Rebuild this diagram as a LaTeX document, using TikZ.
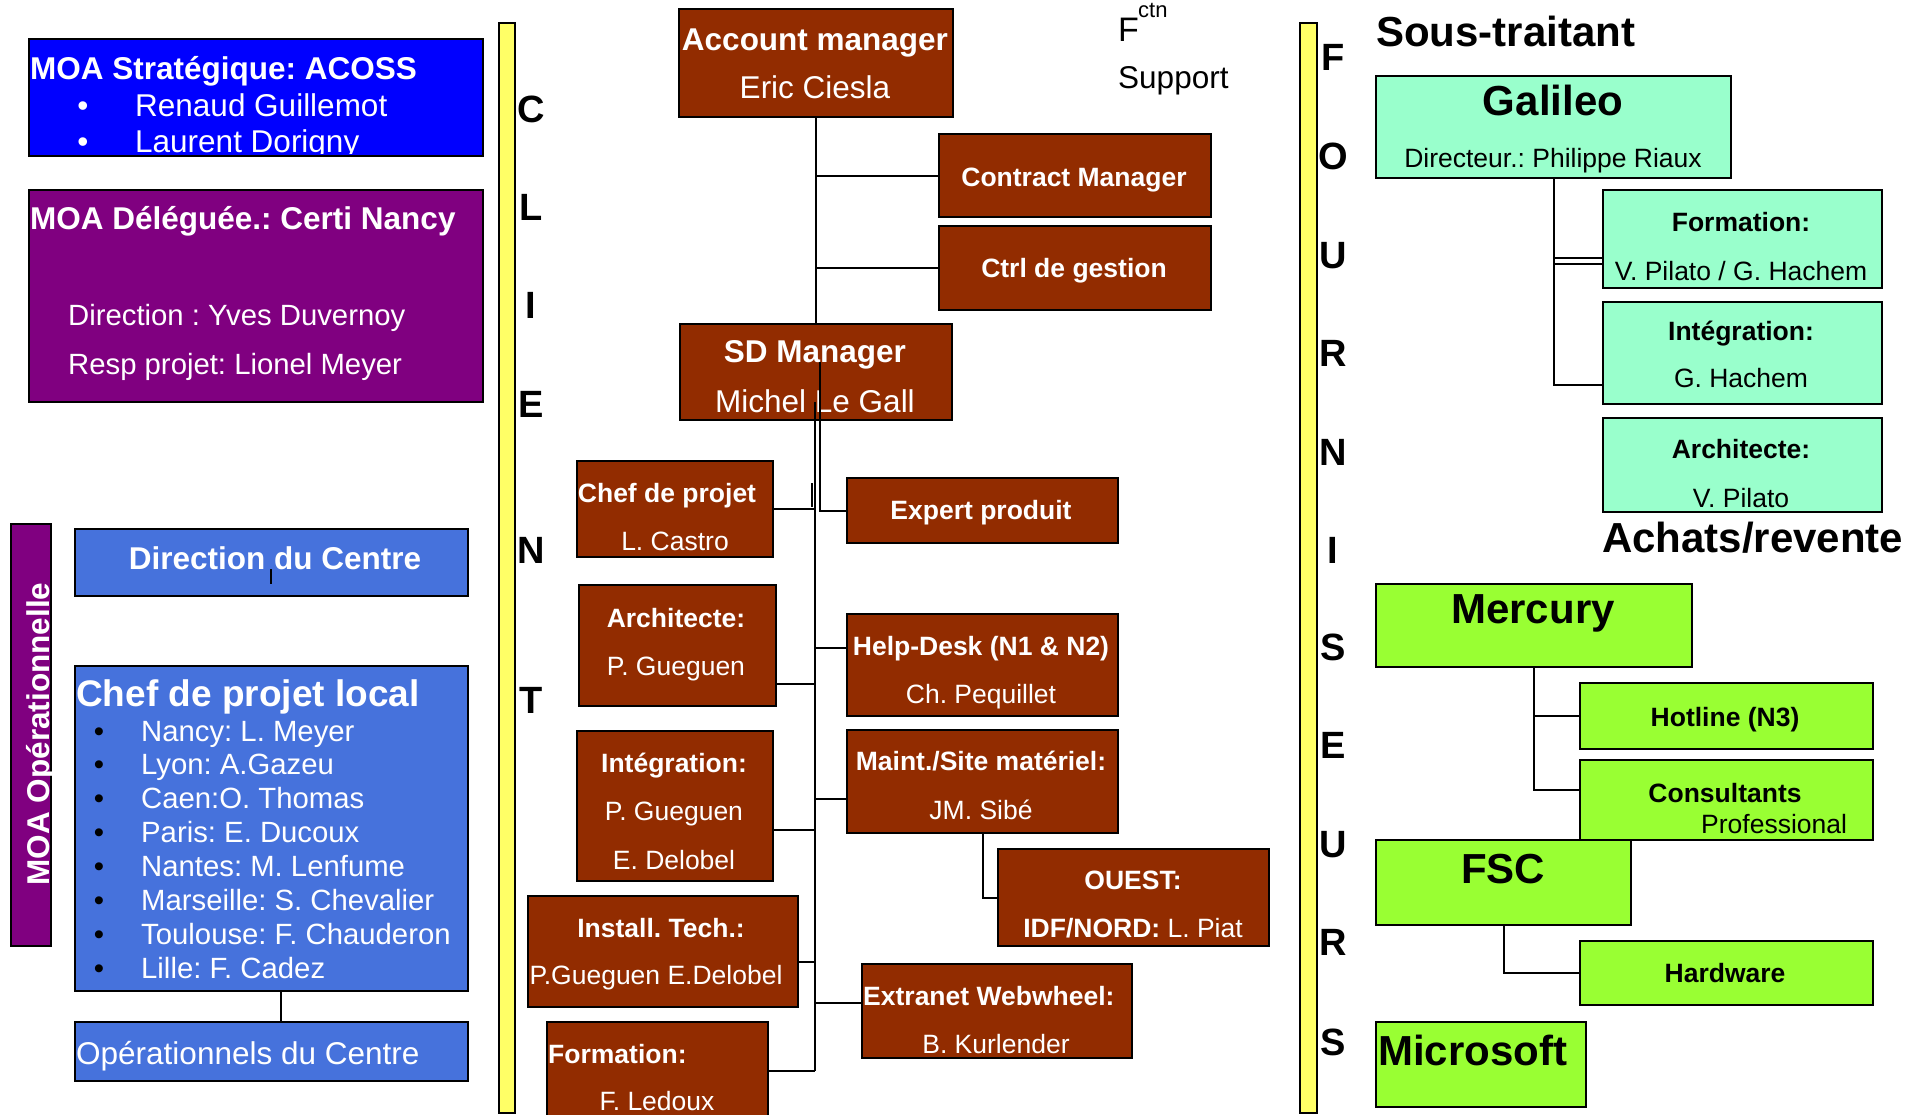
\documentclass[tikz,border=0pt]{standalone}
\usepackage{fontspec}
\setmainfont{Liberation Sans}
\usepackage{tikz}
\frenchspacing
\definecolor{moablue}{RGB}{0,0,255}
\definecolor{moapurple}{RGB}{128,0,128}
\definecolor{ctrblue}{RGB}{70,114,220}
\definecolor{rustbox}{RGB}{146,44,0}
\definecolor{mintbox}{RGB}{153,255,204}
\definecolor{limebox}{RGB}{153,255,51}
\definecolor{baryellow}{RGB}{255,255,102}
\tikzset{
  box/.style={draw=black, line width=2.4pt, inner sep=0pt, anchor=north west},
  bar/.style={draw=black, line width=2pt, fill=baryellow, inner sep=0pt, anchor=north west},
  link/.style={draw=black, line width=2pt},
  txt/.style={inner sep=0pt, text=white},
  txt dark/.style={inner sep=0pt, text=black},
  txt big/.style={font=\fontsize{31.5}{36}\selectfont},
  txt big bold/.style={font=\fontsize{31.5}{36}\selectfont\bfseries},
  txt mid/.style={font=\fontsize{29.3}{34}\selectfont},
  txt chef/.style={font=\fontsize{37}{42}\selectfont\bfseries},
  txt small/.style={font=\fontsize{26.5}{30}\selectfont},
  txt small bold/.style={font=\fontsize{26.5}{30}\selectfont\bfseries},
  txt huge/.style={font=\fontsize{42}{48}\selectfont\bfseries},
  txt letter/.style={font=\fontsize{38}{44}\selectfont\bfseries},
}

\begin{document}
\begin{tikzpicture}[x=1pt, y=-1pt]
    \useasboundingbox (0,0) rectangle (1916,1114);

    % MOA boxes
    \node[box, fill=moablue, minimum width=454pt, minimum height=117pt] (strat) at (28,38) {};
    \node[box, fill=moapurple, minimum width=454pt, minimum height=212pt] (deleg) at (28,189) {};
    \node[box, fill=moapurple, minimum width=40pt, minimum height=422pt] (opmoa) at (10,523) {};
    \node[box, fill=ctrblue, minimum width=393pt, minimum height=67pt] (dirc) at (74,528) {};
    \node[box, fill=ctrblue, minimum width=393pt, minimum height=325pt] (cpl) at (74,665) {};
    \node[box, fill=ctrblue, minimum width=393pt, minimum height=59pt] (opc) at (74,1021) {};

    \node[txt, txt big bold, anchor=base west] (stratT) at (30,79) {MOA Stratégique: ACOSS};
    \node[txt, txt big, anchor=base] (stratB1) at (83,116) {•};
    \node[txt, txt big, anchor=base west] (stratN1) at (135,116) {Renaud Guillemot};
    \begin{scope}
        \clip (28,38) rectangle (482,153);
        \node[txt, txt big, anchor=base] (stratB2) at (83,152) {•};
        \node[txt, txt big, anchor=base west] (stratN2) at (135,152) {Laurent Dorigny};
    \end{scope}

    \node[txt, txt big bold, anchor=base west] (delegT) at (30,229) {MOA Déléguée.: Certi Nancy};
    \node[txt, txt mid, anchor=base west] (delegD) at (68,325) {Direction : Yves Duvernoy};
    \node[txt, txt mid, anchor=base west] (delegR) at (68,374) {Resp projet: Lionel Meyer};

    \node[txt, txt big bold, rotate=90, anchor=base] (opmoaT) at (49,734) {MOA Opérationnelle};
    \node[txt, txt big bold, anchor=base] (dircT) at (275,569) {Direction du Centre};
    \node[txt, txt chef, anchor=base west] (cplT) at (76,706) {Chef de projet local};
    \foreach \who [count=\i from 0] in {Nancy: L. Meyer, Lyon: A.Gazeu, Caen:O. Thomas, Paris: E. Ducoux, Nantes: M. Lenfume, Marseille: S. Chevalier, Toulouse: F. Chauderon, Lille: F. Cadez}{
        \node[txt dark, txt mid, anchor=base] (cplB\i) at (99,{741+33.9*\i}) {•};
        \node[txt, txt mid, anchor=base west] (cplI\i) at (141,{741+33.9*\i}) {\who};
    }
    \node[txt, txt big, anchor=base west] (opcT) at (76,1064) {Opérationnels du Centre};

    % Client bar
    \node[bar, minimum width=16pt, minimum height=1090pt] (cbar) at (498,22) {};
    \foreach \l/\y in {C/108,L/206,I/304,E/403,N/549,T/699}
        \node[txt dark, txt letter, anchor=base] (client\l) at (531,{\y+14}) {\l};

    % Center boxes
    \node[box, fill=rustbox, minimum width=274pt, minimum height=108pt] (acc) at (678,8) {};
    \node[box, fill=rustbox, minimum width=272pt, minimum height=83pt] (contract) at (938,133) {};
    \node[box, fill=rustbox, minimum width=272pt, minimum height=84pt] (ctrl) at (938,225) {};
    \node[box, fill=rustbox, minimum width=272pt, minimum height=96pt] (sd) at (679,323) {};
    \node[box, fill=rustbox, minimum width=196pt, minimum height=96pt] (chefp) at (576,460) {};
    \node[box, fill=rustbox, minimum width=271pt, minimum height=65pt] (expert) at (846,477) {};
    \node[box, fill=rustbox, minimum width=197pt, minimum height=121pt] (archi) at (578,584) {};
    \node[box, fill=rustbox, minimum width=271pt, minimum height=102pt] (help) at (846,613) {};
    \node[box, fill=rustbox, minimum width=196pt, minimum height=150pt] (integ) at (576,730) {};
    \node[box, fill=rustbox, minimum width=271pt, minimum height=103pt] (maint) at (846,729) {};
    \node[box, fill=rustbox, minimum width=271pt, minimum height=97pt] (ouest) at (997,848) {};
    \node[box, fill=rustbox, minimum width=270pt, minimum height=111pt] (install) at (527,895) {};
    \node[box, fill=rustbox, minimum width=270pt, minimum height=94pt] (extra) at (861,963) {};
    \node[box, fill=rustbox, minimum width=221pt, minimum height=110pt] (form) at (546,1021) {};

    \node[txt, txt big bold, anchor=base] (accT) at (815,50) {Account manager};
    \node[txt, txt big, anchor=base] (accN) at (815,98) {Eric Ciesla};
    \node[txt, txt small bold, anchor=base] (contractT) at (1074,186) {Contract Manager};
    \node[txt, txt small bold, anchor=base] (ctrlT) at (1074,277) {Ctrl de gestion};
    \node[txt, txt big bold, anchor=base] (sdT) at (815,362) {SD Manager};
    \node[txt, txt big, anchor=base] (sdN) at (815,412) {Michel Le Gall};
    \node[txt, txt small bold, anchor=base] (chefpT) at (667,502) {Chef de projet};
    \node[txt, txt small, anchor=base] (chefpN) at (675,550) {L. Castro};
    \node[txt, txt small bold, anchor=base] (expertT) at (981,519) {Expert produit};
    \node[txt, txt small bold, anchor=base] (archiT) at (676,627) {Architecte:};
    \node[txt, txt small, anchor=base] (archiN) at (676,675) {P. Gueguen};
    \node[txt, txt small bold, anchor=base] (helpT) at (981,655) {Help-Desk (N1 \& N2)};
    \node[txt, txt small, anchor=base] (helpN) at (981,703) {Ch. Pequillet};
    \node[txt, txt small bold, anchor=base] (integT) at (674,772) {Intégration:};
    \node[txt, txt small, anchor=base] (integN1) at (674,820) {P. Gueguen};
    \node[txt, txt small, anchor=base] (integN2) at (674,869) {E. Delobel};
    \node[txt, txt small bold, anchor=base] (maintT) at (981,770) {Maint./Site matériel:};
    \node[txt, txt small, anchor=base] (maintN) at (981,819) {JM. Sibé};
    \node[txt, txt small bold, anchor=base] (ouestT) at (1133,889) {OUEST:};
    \node[txt, txt small, anchor=base] (ouestN) at (1133,937) {\textbf{IDF/NORD:} L. Piat};
    \node[txt, txt small bold, anchor=base] (installT) at (661,937) {Install. Tech.:};
    \node[txt, txt small, anchor=base] (installN) at (656,984) {P.Gueguen E.Delobel};
    \node[txt, txt small bold, anchor=base west] (extraT) at (863,1005) {Extranet Webwheel:};
    \node[txt, txt small, anchor=base] (extraN) at (996,1053) {B. Kurlender};
    \node[txt, txt small bold, anchor=base west] (formT) at (548,1063) {Formation:};
    \node[txt, txt small, anchor=base] (formN) at (657,1110) {F. Ledoux};

    % Fctn Support
    \node[txt dark, font=\fontsize{34}{40}\selectfont, anchor=base west] (fctnF) at (1118,41) {F};
    \node[txt dark, font=\fontsize{22}{26}\selectfont, anchor=base west] (fctnS) at (1138,17) {ctn};
    \node[txt dark, txt big, anchor=base west] (support) at (1118,88) {Support};

    % Fournisseurs bar
    \node[bar, minimum width=17pt, minimum height=1090pt] (fbar) at (1299,22) {};
    \foreach \l/\y [count=\i] in {F/56,O/155,U/254,R/352,N/451,I/549,S/646,E/744,U/843,R/941,S/1041}
        \node[txt dark, txt letter, anchor=base] (four\i) at (1333,{\y+14}) {\l};

    % Right boxes
    \node[box, fill=mintbox, minimum width=355pt, minimum height=102pt] (galileo) at (1375,75) {};
    \node[box, fill=mintbox, minimum width=279pt, minimum height=98pt] (gform) at (1602,189) {};
    \node[box, fill=mintbox, minimum width=279pt, minimum height=102pt] (ginteg) at (1602,301) {};
    \node[box, fill=mintbox, minimum width=279pt, minimum height=94pt] (garch) at (1602,417) {};
    \node[box, fill=limebox, minimum width=316pt, minimum height=83pt] (mercury) at (1375,583) {};
    \node[box, fill=limebox, minimum width=293pt, minimum height=66pt] (hotline) at (1579,682) {};
    \node[box, fill=limebox, minimum width=293pt, minimum height=80pt] (consult) at (1579,759) {};
    \node[box, fill=limebox, minimum width=255pt, minimum height=85pt] (fsc) at (1375,839) {};
    \node[box, fill=limebox, minimum width=293pt, minimum height=64pt] (hard) at (1579,940) {};
    \node[box, fill=limebox, minimum width=210pt, minimum height=85pt] (micro) at (1375,1021) {};

    \node[txt dark, txt huge, anchor=base west] (soust) at (1376,46) {Sous-traitant};
    \node[txt dark, txt huge, anchor=base] (galileoT) at (1553,115) {Galileo};
    \node[txt dark, txt small, anchor=base] (galileoN) at (1553,167) {Directeur.: Philippe Riaux};
    \node[txt dark, txt small bold, anchor=base] (gformT) at (1741,231) {Formation:};
    \node[txt dark, txt small, anchor=base] (gformN) at (1741,280) {V. Pilato / G. Hachem};
    \node[txt dark, txt small bold, anchor=base] (gintegT) at (1741,340) {Intégration:};
    \node[txt dark, txt small, anchor=base] (gintegN) at (1741,387) {G. Hachem};
    \node[txt dark, txt small bold, anchor=base] (garchT) at (1741,458) {Architecte:};
    \node[txt dark, txt small, anchor=base] (garchN) at (1741,507) {V. Pilato};
    \node[txt dark, txt huge, anchor=base west] (achats) at (1602,552) {Achats/revente};
    \node[txt dark, txt huge, anchor=base] (mercuryT) at (1533,623) {Mercury};
    \node[txt dark, txt small bold, anchor=base] (hotlineT) at (1725,726) {Hotline (N3)};
    \node[txt dark, txt small bold, anchor=base] (consultT) at (1725,802) {Consultants};
    \node[txt dark, txt small, anchor=base west] (consultN) at (1701,833) {Professional};
    \node[txt dark, txt huge, anchor=base] (fscT) at (1503,883) {FSC};
    \node[txt dark, txt small bold, anchor=base] (hardT) at (1725,982) {Hardware};
    \node[txt dark, txt huge, anchor=base west] (microT) at (1378,1065) {Microsoft};

    % Links left
    \coordinate (dtick) at (271,569);
    \draw[link] (dtick) -- ++(0,15);
    \draw[link] ([xshift=9pt]cpl.south) -- ([xshift=9pt]opc.north);

    % Links center
    \coordinate (tr1) at (815,402);
    \coordinate (tr2) at (815,1071);
    \coordinate (tr3) at (820,362);
    \draw[link] (acc.south) -- (sd.north);
    \draw[link] (acc.south |- contract.west) -- (contract.west);
    \draw[link] (acc.south |- ctrl.west) -- (ctrl.west);
    \draw[link] (tr1) -- (tr2);
    \draw[link] (tr3) |- (expert.west);
    \draw[link] (812,483) -- (812,507);
    \draw[link] (chefp.east) -- (chefp.east -| tr1);
    \draw[link] (archi.east |- 0,684) -- (tr1 |- 0,684);
    \draw[link] (integ.east |- 0,830) -- (tr1 |- 0,830);
    \draw[link] (install.east |- 0,962) -- (tr1 |- 0,962);
    \draw[link] (form.east |- tr2) -- (tr2);
    \draw[link] (tr1 |- 0,648) -- (help.west |- 0,648);
    \draw[link] (tr1 |- 0,799) -- (maint.west |- 0,799);
    \draw[link] (tr1 |- 0,1003) -- (extra.west |- 0,1003);
    \draw[link] (maint.south) |- (ouest.west);

    % Links right
    \draw[link] (galileo.south) -- (galileo.south |- 0,385) -- (ginteg.west |- 0,385);
    \draw[link] (galileo.south |- 0,258) -- (gform.west |- 0,258);
    \draw[link] (galileo.south |- 0,264) -- (gform.west |- 0,264);
    \draw[link] (mercury.south) |- (consult.west |- 0,790);
    \draw[link] (mercury.south |- hotline.west) -- (hotline.west);
    \draw[link] (fsc.south) |- (hard.west);
\end{tikzpicture}
\end{document}
